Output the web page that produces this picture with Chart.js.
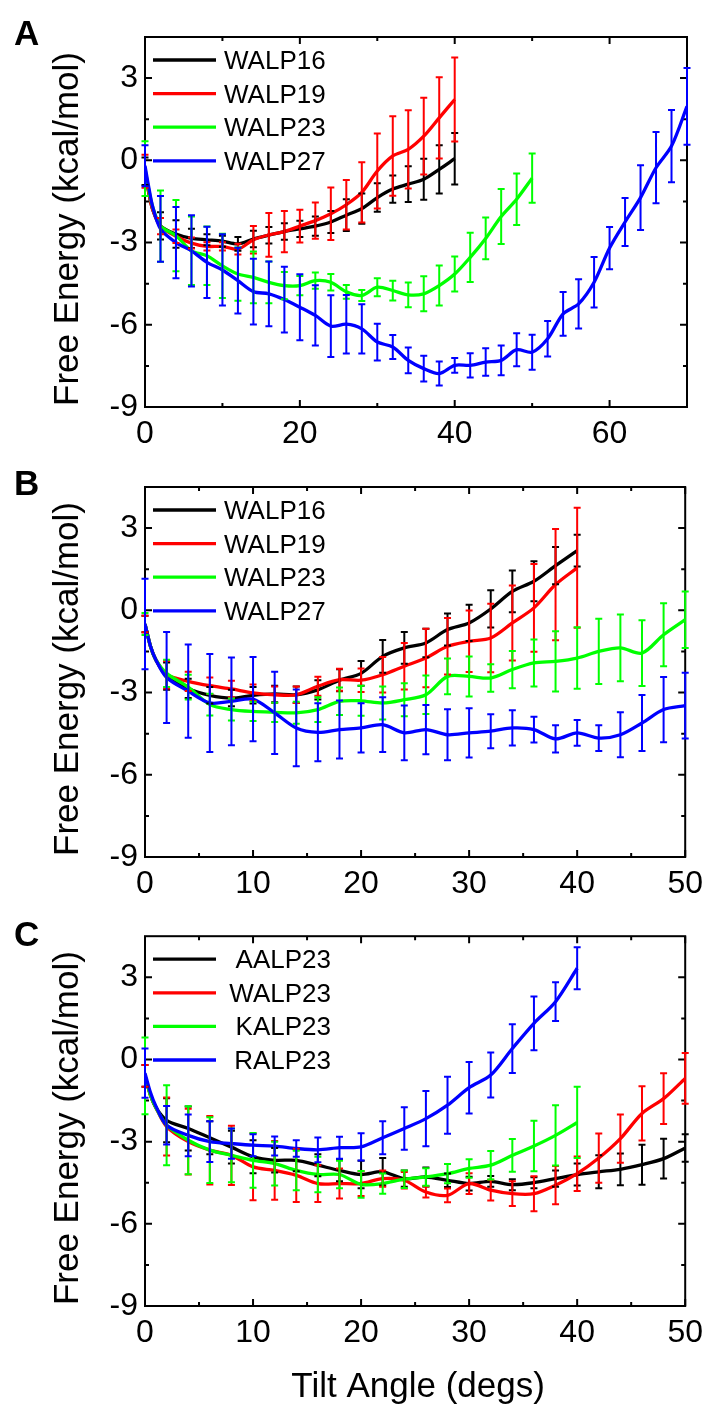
<!DOCTYPE html>
<html>
<head>
<meta charset="utf-8">
<script src="https://cdn.jsdelivr.net/npm/chart.js@4.4.1/dist/chart.umd.min.js"></script>
<style>
  body { margin: 0; background: #fff; }
  #wrap { position: relative; width: 711px; height: 1410px; }
  canvas { position: absolute; left: 0; }
</style>
</head>
<body>
<div id="wrap">
  <canvas id="chartA" width="711" height="460" style="top:0px"></canvas>
  <canvas id="chartB" width="711" height="450" style="top:460px"></canvas>
  <canvas id="chartC" width="711" height="500" style="top:910px"></canvas>
</div>
<script>
// --- Tick labels ---
const yTicks = [-9, -6, -3, 0, 3];
const yMinor = [-7.5, -4.5, -1.5, 1.5];
const xTicksA = [0, 20, 40, 60];
const xMinorA = [10, 30, 50];
const xTicksBC = [0, 10, 20, 30, 40, 50];
const xMinorBC = [5, 15, 25, 35, 45];

// --- Angles (degs) where curves / error bars are read ---
const angleA = [0, 0.5, 1, 2, 4, 6, 8, 10, 12, 14, 16, 18, 20, 22, 24, 26, 28, 30, 32, 34, 36,
  38, 40, 42, 44, 46, 48, 50, 52, 54, 56, 58, 60, 62, 64, 66, 68, 70];
const errAngleA = [0, 2, 4, 6, 8, 10, 12, 14, 16, 18, 20, 22, 24, 26, 28, 30, 32, 34, 36,
  38, 40, 42, 44, 46, 48, 50, 52, 54, 56, 58, 60, 62, 64, 66, 68, 70];
const angleBC = [0, 0.5, 1, 2, 4, 6, 8, 10, 12, 14, 16, 18, 20, 22, 24, 26, 28, 30, 32, 34, 36,
  38, 40, 42, 44, 46, 48, 50];
const errAngleBC = [0, 2, 4, 6, 8, 10, 12, 14, 16, 18, 20, 22, 24, 26, 28, 30, 32, 34, 36,
  38, 40, 42, 44, 46, 48, 50];

// --- Panel A: free energy (kcal/mol) ---
const walp16A = [-0.4, -1.2, -1.8, -2.39, -2.69, -2.85, -2.9, -2.95, -3.05, -2.87, -2.73, -2.6,
  -2.5, -2.4, -2.25, -2.0, -1.76, -1.36, -1.05, -0.87, -0.69, -0.33, 0.06];
const walp19A = [-0.4, -1.2, -1.8, -2.4, -2.77, -3.02, -3.14, -3.14, -3.24, -2.9, -2.72, -2.6,
  -2.4, -2.2, -1.95, -1.62, -1.17, -0.39, 0.16, 0.4, 0.88, 1.55, 2.22];
const walp23A = [-0.3, -1.1, -1.7, -2.4, -2.75, -3.3, -3.48, -3.85, -4.15, -4.27, -4.45, -4.57,
  -4.57, -4.39, -4.45, -4.8, -4.93, -4.63, -4.75, -4.91, -4.87, -4.57, -4.15, -3.54, -2.85,
  -2.05, -1.42, -0.65];
const walp27A = [-0.2, -1.0, -1.7, -2.5, -3.0, -3.3, -3.72, -4.0, -4.39, -4.79, -4.87, -5.08,
  -5.36, -5.66, -6.05, -5.98, -6.15, -6.63, -6.81, -7.3, -7.6, -7.78, -7.48, -7.48, -7.36,
  -7.3, -6.91, -7.0, -6.51, -5.6, -5.24, -4.45, -3.2, -2.25, -1.36, -0.27, 0.52, 1.97];
const walp16ErrA = [0.5, 0.5, 0.5, 0.35, 0.2, 0.2, 0.25, 0.3, 0.3, 0.3, 0.3, 0.35, 0.4, 0.58,
  0.55, 0.52, 0.5, 0.65, 0.75, 0.88, 0.94];
const walp19ErrA = [0.6, 0.3, 0.25, 0.2, 0.15, 0.15, 0.2, 0.5, 0.8, 0.75, 0.6, 0.66, 0.96, 0.9,
  1.1, 1.37, 1.45, 1.43, 1.4, 1.48, 1.53];
const walp23ErrA = [1.0, 1.3, 1.3, 1.25, 1.07, 1.17, 0.97, 0.94, 0.76, 0.5, 0.35, 0.3, 0.3,
  0.25, 0.2, 0.33, 0.36, 0.45, 0.64, 0.73, 0.64, 0.9, 0.76, 1.0, 0.94, 0.9];
const walp27ErrA = [0.75, 1.2, 1.3, 1.3, 1.3, 1.3, 1.2, 1.2, 1.18, 1.2, 1.2, 1.1, 1.13, 1.07,
  0.9, 0.67, 0.44, 0.47, 0.47, 0.44, 0.27, 0.44, 0.5, 0.54, 0.6, 0.64, 0.65, 0.8, 0.9, 0.92,
  0.77, 0.88, 1.18, 1.3, 1.32, 1.4];

// --- Panel B ---
const walp16B = [-0.5, -1.3, -1.8, -2.4, -2.85, -3.1, -3.2, -3.1, -3.05, -3.08, -2.9, -2.55,
  -2.3, -1.68, -1.37, -1.19, -0.7, -0.46, 0.05, 0.69, 1.06, 1.63, 2.18];
const walp19B = [-0.5, -1.3, -1.8, -2.35, -2.59, -2.75, -2.87, -3.01, -3.08, -3.08, -2.77,
  -2.53, -2.55, -2.35, -2.04, -1.74, -1.31, -1.13, -1.01, -0.46, 0.09, 0.94, 1.55];
const walp23B = [-0.5, -1.3, -1.8, -2.3, -2.8, -3.44, -3.62, -3.69, -3.72, -3.74, -3.62, -3.32,
  -3.3, -3.38, -3.26, -3.08, -2.41, -2.41, -2.47, -2.16, -1.92, -1.86, -1.74, -1.5, -1.37,
  -1.56, -0.89, -0.34];
const walp27B = [-0.5, -1.3, -1.8, -2.45, -2.95, -3.38, -3.32, -3.24, -3.74, -4.29, -4.45,
  -4.35, -4.29, -4.17, -4.47, -4.35, -4.54, -4.47, -4.41, -4.29, -4.35, -4.69, -4.47, -4.66,
  -4.54, -4.11, -3.62, -3.48];
const walp16ErrB = [0.3, 0.5, 0.35, 0.3, 0.3, 0.3, 0.3, 0.3, 0.35, 0.4, 0.45, 0.6, 0.58, 0.52,
  0.58, 0.66, 0.68, 0.76, 0.73, 0.68, 0.58];
const walp19ErrB = [0.3, 0.5, 0.35, 0.3, 0.3, 0.3, 0.3, 0.3, 0.35, 0.4, 0.43, 0.65, 0.85, 1.07,
  1.03, 1.12, 1.25, 1.37, 1.6, 2.03, 2.19];
const walp23ErrB = [0.4, 0.5, 0.45, 0.4, 0.4, 0.35, 0.35, 0.4, 0.45, 0.5, 0.55, 0.6, 0.6, 0.7,
  0.65, 0.73, 0.5, 0.68, 0.86, 1.1, 1.12, 1.19, 1.22, 1.2, 1.15, 1.03];
const walp27ErrB = [1.65, 1.66, 1.7, 1.79, 1.6, 1.54, 1.5, 1.4, 1.06, 1.06, 0.9, 1.0, 1.0, 0.9,
  0.93, 0.9, 0.62, 0.64, 0.47, 0.5, 0.47, 0.47, 0.82, 1.02, 1.19, 1.2];

// --- Panel C ---
const aalp23C = [-0.6, -1.3, -1.75, -2.22, -2.52, -2.86, -3.2, -3.55, -3.68, -3.68, -3.86, -4.05,
  -4.2, -4.1, -4.35, -4.29, -4.41, -4.53, -4.45, -4.57, -4.5, -4.35, -4.2, -4.1, -4.01, -3.84,
  -3.62, -3.23];
const walp23C = [-0.6, -1.3, -1.75, -2.45, -3.0, -3.31, -3.5, -3.92, -4.05, -4.23, -4.53, -4.53,
  -4.53, -4.35, -4.41, -4.84, -4.96, -4.53, -4.77, -4.9, -4.9, -4.59, -4.17, -3.6, -2.89,
  -1.97, -1.43, -0.69];
const kalp23C = [-0.6, -1.3, -1.75, -2.4, -2.95, -3.31, -3.5, -3.68, -3.8, -4.05, -4.2, -4.2,
  -4.56, -4.53, -4.37, -4.29, -4.17, -3.98, -3.86, -3.5, -3.16, -2.77, -2.3];
const ralp23C = [-0.5, -1.2, -1.7, -2.4, -2.77, -3.0, -3.07, -3.13, -3.16, -3.25, -3.3, -3.22,
  -3.19, -2.86, -2.52, -2.16, -1.67, -1.03, -0.57, 0.4, 1.32, 2.11, 3.33];
const aalp23ErrC = [0.4, 0.8, 0.8, 0.6, 0.6, 0.6, 0.45, 0.4, 0.4, 0.4, 0.5, 0.5, 0.3, 0.35,
  0.25, 0.25, 0.2, 0.2, 0.2, 0.3, 0.4, 0.6, 0.58, 0.73, 0.73, 0.5];
const walp23ErrC = [0.4, 1.06, 1.2, 1.25, 1.08, 1.22, 1.07, 0.97, 0.67, 0.55, 0.45, 0.3, 0.3,
  0.2, 0.25, 0.38, 0.38, 0.45, 0.64, 0.7, 0.63, 0.9, 0.88, 0.99, 0.93, 0.93];
const kalp23ErrC = [1.4, 1.46, 1.24, 1.2, 0.98, 1.0, 0.8, 0.72, 0.65, 0.5, 0.49, 0.37, 0.32,
  0.32, 0.35, 0.34, 0.52, 0.6, 0.92, 1.1, 1.3];
const ralp23ErrC = [0.9, 0.7, 0.76, 0.74, 0.55, 0.4, 0.35, 0.3, 0.45, 0.4, 0.5, 0.6, 0.78, 1.01,
  1.04, 0.94, 0.82, 0.89, 0.98, 0.71, 0.77];

const FONT = '"Liberation Sans", Arial, Helvetica, sans-serif';
const COLORS = ['#000000', '#ff0000', '#00ff00', '#0000ff'];

function series(label, angles, values, errAngles, errs, idx) {
  return {
    label: label,
    data: values.map((v, i) => ({ x: angles[i], y: v })),
    errAngles: errAngles.slice(0, errs.length),
    errValues: errs,
    borderColor: COLORS[idx],
    borderWidth: 3.3,
    pointRadius: 0,
    tension: 0.3,
    fill: false,
    order: 3 - idx // blue drawn on top
  };
}

// frame, inward ticks, error bars, legend and titles
function makeDecor(p) {
  return {
    id: 'decor' + p.letter,
    beforeDatasetsDraw(chart) {
      const { ctx, chartArea: a, scales: { x, y } } = chart;
      ctx.save();
      ctx.strokeStyle = '#000';
      ctx.lineWidth = 2;
      ctx.beginPath();
      const seg = (x1, y1, x2, y2) => { ctx.moveTo(x1, y1); ctx.lineTo(x2, y2); };
      p.xMajor.forEach(v => { const px = x.getPixelForValue(v); seg(px, a.bottom, px, a.bottom - 7); seg(px, a.top, px, a.top + 7); });
      p.xMinor.forEach(v => { const px = x.getPixelForValue(v); seg(px, a.bottom, px, a.bottom - 4); seg(px, a.top, px, a.top + 4); });
      yTicks.forEach(v => { const py = y.getPixelForValue(v); seg(a.left, py, a.left + 7, py); seg(a.right, py, a.right - 7, py); });
      yMinor.forEach(v => { const py = y.getPixelForValue(v); seg(a.left, py, a.left + 4, py); seg(a.right, py, a.right - 4, py); });
      ctx.stroke();
      ctx.strokeRect(a.left, a.top, a.width, a.height);
      ctx.restore();
    },
    afterDatasetsDraw(chart) {
      const { ctx, scales: { x, y } } = chart;
      ctx.save();
      ctx.lineWidth = 2;
      chart.data.datasets.forEach((ds, i) => {
        if (!chart.isDatasetVisible(i)) return;
        ctx.strokeStyle = ds.borderColor;
        ctx.beginPath();
        ds.errAngles.forEach((ang, k) => {
          const pt = ds.data.find(d => d.x === ang);
          if (!pt) return;
          const px = x.getPixelForValue(ang);
          const top = y.getPixelForValue(pt.y + ds.errValues[k]);
          const bot = y.getPixelForValue(pt.y - ds.errValues[k]);
          ctx.moveTo(px, top); ctx.lineTo(px, bot);
          ctx.moveTo(px - 3.5, top); ctx.lineTo(px + 3.5, top);
          ctx.moveTo(px - 3.5, bot); ctx.lineTo(px + 3.5, bot);
        });
        ctx.stroke();
      });
      ctx.restore();
    },
    afterDraw(chart) {
      const { ctx, chartArea: a } = chart;
      ctx.save();
      // legend inside the plot
      ctx.font = '26px ' + FONT;
      ctx.fillStyle = '#000';
      ctx.textBaseline = 'alphabetic';
      chart.data.datasets.forEach((ds, i) => {
        const ly = a.top + 23 + i * 33.6;
        ctx.strokeStyle = ds.borderColor;
        ctx.lineWidth = 3.3;
        ctx.beginPath();
        ctx.moveTo(a.left + 8, ly);
        ctx.lineTo(a.left + 71, ly);
        ctx.stroke();
        if (p.legendRight) {
          ctx.textAlign = 'right';
          ctx.fillText(ds.label, a.left + 186, ly + 9);
        } else {
          ctx.textAlign = 'left';
          ctx.fillText(ds.label, a.left + 79, ly + 9);
        }
      });
      // panel letter
      ctx.font = 'bold 35px ' + FONT;
      ctx.textAlign = 'left';
      ctx.fillText(p.letter, 14, p.letterY);
      // y axis title
      ctx.font = '35px ' + FONT;
      ctx.save();
      ctx.translate(78, (a.top + a.bottom) / 2 + 7);
      ctx.rotate(-Math.PI / 2);
      ctx.textAlign = 'center';
      ctx.fillText('Free Energy (kcal/mol)', 0, 0);
      ctx.restore();
      if (p.xTitle) {
        ctx.textAlign = 'center';
        ctx.fillText(p.xTitle, (a.left + a.right) / 2 + 3, p.xTitleY);
      }
      ctx.restore();
    }
  };
}

function createPanel(canvasId, p) {
  const ctx = document.getElementById(canvasId).getContext('2d');
  return new Chart(ctx, {
    type: 'line',
    data: { datasets: p.datasets },
    options: {
      responsive: false,
      animation: false,
      devicePixelRatio: 1,
      events: [],
      layout: { padding: { top: p.padTop, right: 24, bottom: 0, left: 0 } },
      plugins: { legend: { display: false }, tooltip: { enabled: false } },
      scales: {
        x: {
          type: 'linear',
          min: 0,
          max: p.xMax,
          afterBuildTicks: s => { s.ticks = p.xMajor.map(v => ({ value: v })); },
          afterFit: s => { s.height = p.xAxisHeight; },
          grid: { display: false, drawTicks: false },
          border: { display: false },
          ticks: { autoSkip: false, maxRotation: 0, padding: 8, color: '#000', font: { family: FONT, size: 32 } }
        },
        y: {
          type: 'linear',
          min: -9,
          max: 4.5,
          afterBuildTicks: s => { s.ticks = yTicks.map(v => ({ value: v })); },
          afterFit: s => { s.width = 145; },
          grid: { display: false, drawTicks: false },
          border: { display: false },
          ticks: { autoSkip: false, padding: 7, color: '#000', font: { family: FONT, size: 32 } }
        }
      }
    },
    plugins: [makeDecor(p)]
  });
}

createPanel('chartA', {
  letter: 'A', letterY: 45, padTop: 37, xAxisHeight: 53, xMax: 70,
  xMajor: xTicksA, xMinor: xMinorA,
  datasets: [
    series('WALP16', angleA, walp16A, errAngleA, walp16ErrA, 0),
    series('WALP19', angleA, walp19A, errAngleA, walp19ErrA, 1),
    series('WALP23', angleA, walp23A, errAngleA, walp23ErrA, 2),
    series('WALP27', angleA, walp27A, errAngleA, walp27ErrA, 3)
  ]
});

createPanel('chartB', {
  letter: 'B', letterY: 35, padTop: 27, xAxisHeight: 53, xMax: 50,
  xMajor: xTicksBC, xMinor: xMinorBC,
  datasets: [
    series('WALP16', angleBC, walp16B, errAngleBC, walp16ErrB, 0),
    series('WALP19', angleBC, walp19B, errAngleBC, walp19ErrB, 1),
    series('WALP23', angleBC, walp23B, errAngleBC, walp23ErrB, 2),
    series('WALP27', angleBC, walp27B, errAngleBC, walp27ErrB, 3)
  ]
});

createPanel('chartC', {
  letter: 'C', letterY: 36, padTop: 26, xAxisHeight: 104, xMax: 50,
  xMajor: xTicksBC, xMinor: xMinorBC, legendRight: true,
  xTitle: 'Tilt Angle (degs)', xTitleY: 487,
  datasets: [
    series('AALP23', angleBC, aalp23C, errAngleBC, aalp23ErrC, 0),
    series('WALP23', angleBC, walp23C, errAngleBC, walp23ErrC, 1),
    series('KALP23', angleBC, kalp23C, errAngleBC, kalp23ErrC, 2),
    series('RALP23', angleBC, ralp23C, errAngleBC, ralp23ErrC, 3)
  ]
});
</script>
</body>
</html>
